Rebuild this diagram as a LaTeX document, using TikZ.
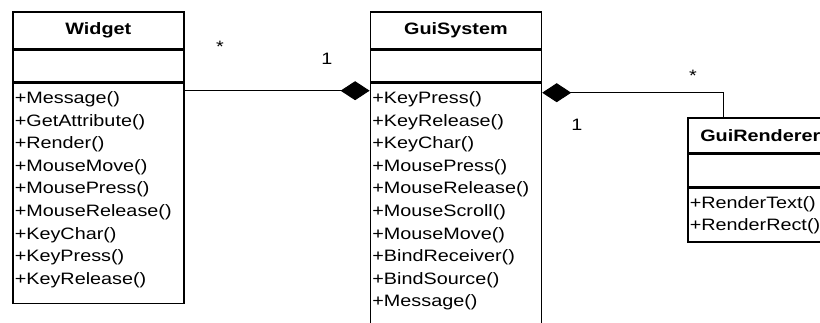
\documentclass[tikz,border=0pt]{standalone}
\usepackage{fontspec}
\setmainfont{Liberation Sans}[FakeStretch=1.2]
\usetikzlibrary{positioning, arrows.meta, calc}

\begin{document}
\begin{tikzpicture}[
        x=1pt, y=-1pt,
        font={\fontsize{16.5}{22.6}\selectfont},
        node distance=0pt,
        cname/.style ={draw, line width=1.6pt, minimum width=171pt,
                       minimum height=36.5pt, inner sep=0pt,
                       font={\fontsize{16.5}{22.6}\selectfont\bfseries}},
        cattr/.style ={draw, line width=1.6pt, minimum width=171pt,
                       minimum height=32pt, inner sep=0pt},
        cops/.style  ={draw, line width=1.6pt, text width=167pt, align=left,
                       inner xsep=2pt, inner ysep=8pt, text height=12pt},
        comp/.style  ={-{Diamond[length=29pt, width=19pt]}, line width=1pt},
        mult/.style  ={anchor=base, inner sep=0pt}
    ]
      \useasboundingbox (0,0) rectangle (820,322);

      % ===== WIDGET =====
      \node[cname, anchor=north west]  (wname) at (12,11) {Widget};
      \node[cattr, below=of wname]     (wattr) {};
      \node[cops,  below=of wattr, text depth=192pt] (wops)
            {+Message()\\+GetAttribute()\\+Render()\\+MouseMove()\\
             +MousePress()\\+MouseRelease()\\+KeyChar()\\+KeyPress()\\
             +KeyRelease()};

      % ===== GUISYSTEM (runs on past the page) =====
      \node[cname, right=185pt of wname] (sname) {GuiSystem};
      \node[cattr, below=of sname]       (sattr) {};
      \node[cops,  below=of sattr, text depth=250pt] (sops)
            {+KeyPress()\\+KeyRelease()\\+KeyChar()\\+MousePress()\\
             +MouseRelease()\\+MouseScroll()\\+MouseMove()\\
             +BindReceiver()\\+BindSource()\\+Message()};

      % ===== GUIRENDERER =====
      \node[cname, anchor=north west, minimum width=145pt,
            minimum height=35pt]              (rname) at (687,117) {GuiRenderer};
      \node[cattr, below=of rname, minimum width=145pt] (rattr) {};
      \node[cops,  below=of rattr, text width=141pt]    (rops)
            {+RenderText()\\+RenderRect()};

      % composition links
      \draw[comp] ($(wops.north east)+(0,8)$) -- ($(sops.north west)+(0,8)$);
      \coordinate (rjoin) at ($(rname.north west)+(36,0)$);
      \draw[comp] (rjoin) |- ($(sops.north east)+(0,10)$);

      % multiplicities
      \node[mult] (wmany) at (220,52)  {*};
      \node[mult] (wone)  at (327,64)  {1};
      \node[mult] (rmany) at (693,81)  {*};
      \node[mult] (sone)  at (577,130) {1};
    \end{tikzpicture}
\end{document}
